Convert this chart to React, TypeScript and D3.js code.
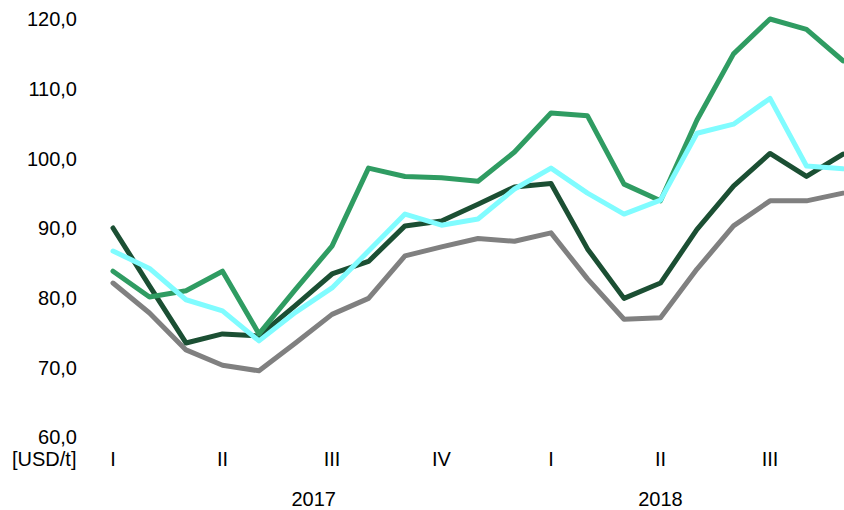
import React from "react";
import * as d3 from "d3";

const months: number[] = d3.range(21);
const quarterLabels = ["I", "II", "III", "IV", "I", "II", "III"];
const quarterIdx = [0, 3, 6, 9, 12, 15, 18];
const yearLabels = ["2017", "2018"];
const yearIdx = [5.5, 15];
const yTicks = [60, 70, 80, 90, 100, 110, 120];

const darkGreen = [90.0, 81.7, 73.5, 74.8, 74.5, 78.9, 83.4, 85.2, 90.3, 91.0, 93.4, 95.9, 96.4, 87.0, 79.9, 82.1, 89.8, 96.0, 100.7, 97.4, 100.6];
const green = [83.8, 80.1, 81.0, 83.8, 74.8, 81.2, 87.4, 98.6, 97.4, 97.2, 96.7, 100.9, 106.5, 106.1, 96.3, 93.9, 105.5, 115.0, 120.0, 118.5, 114.0];
const cyan = [86.7, 84.2, 79.7, 78.1, 73.8, 77.9, 81.4, 86.7, 92.0, 90.4, 91.3, 95.6, 98.6, 95.0, 92.0, 94.0, 103.6, 104.9, 108.6, 98.9, 98.5];
const gray = [82.1, 77.8, 72.5, 70.3, 69.5, 73.5, 77.6, 79.9, 86.0, 87.3, 88.5, 88.1, 89.3, 82.7, 76.9, 77.1, 84.1, 90.3, 93.9, 93.9, 95.0];

const series = [
  { name: "gray", values: gray, color: "#808080" },
  { name: "dark", values: darkGreen, color: "#1b4f33" },
  { name: "green", values: green, color: "#2f9c62" },
  { name: "cyan", values: cyan, color: "#80fcff" },
];

export default function App() {
  const W = 844, H = 510;
  const x = d3.scaleLinear().domain([0, 20]).range([113, 843]);
  const y = d3.scaleLinear().domain([60, 120]).range([437, 19]);
  const line = d3.line<number>().x((_, i) => x(months[i])).y((d) => y(d));
  const fmt = (v: number) => v.toFixed(1).replace(".", ",");
  const font = "'Liberation Sans', Arial, sans-serif";
  return (
    <svg width={W} height={H} style={{ position: "absolute", left: 0, top: 0, background: "#fff" }} fontFamily={font}>
      <g>
        {yTicks.map((t) => (
          <text key={t} x={77} y={y(t)} dy="0.36em" textAnchor="end" fontSize={20} fill="#000">
            {fmt(t)}
          </text>
        ))}
        <text x={12} y={466} fontSize={20} fill="#000">[USD/t]</text>
        {quarterLabels.map((q, i) => (
          <text key={i} x={x(quarterIdx[i])} y={466} textAnchor="middle" fontSize={20} fill="#000">{q}</text>
        ))}
        {yearLabels.map((yl, i) => (
          <text key={yl} x={x(yearIdx[i])} y={506} textAnchor="middle" fontSize={20} fill="#000">{yl}</text>
        ))}
      </g>
      <g fill="none" strokeWidth={5} strokeLinejoin="round" strokeLinecap="round">
        {series.map((s) => (
          <path key={s.name} d={line(s.values) || ""} stroke={s.color} />
        ))}
      </g>
    </svg>
  );
}
